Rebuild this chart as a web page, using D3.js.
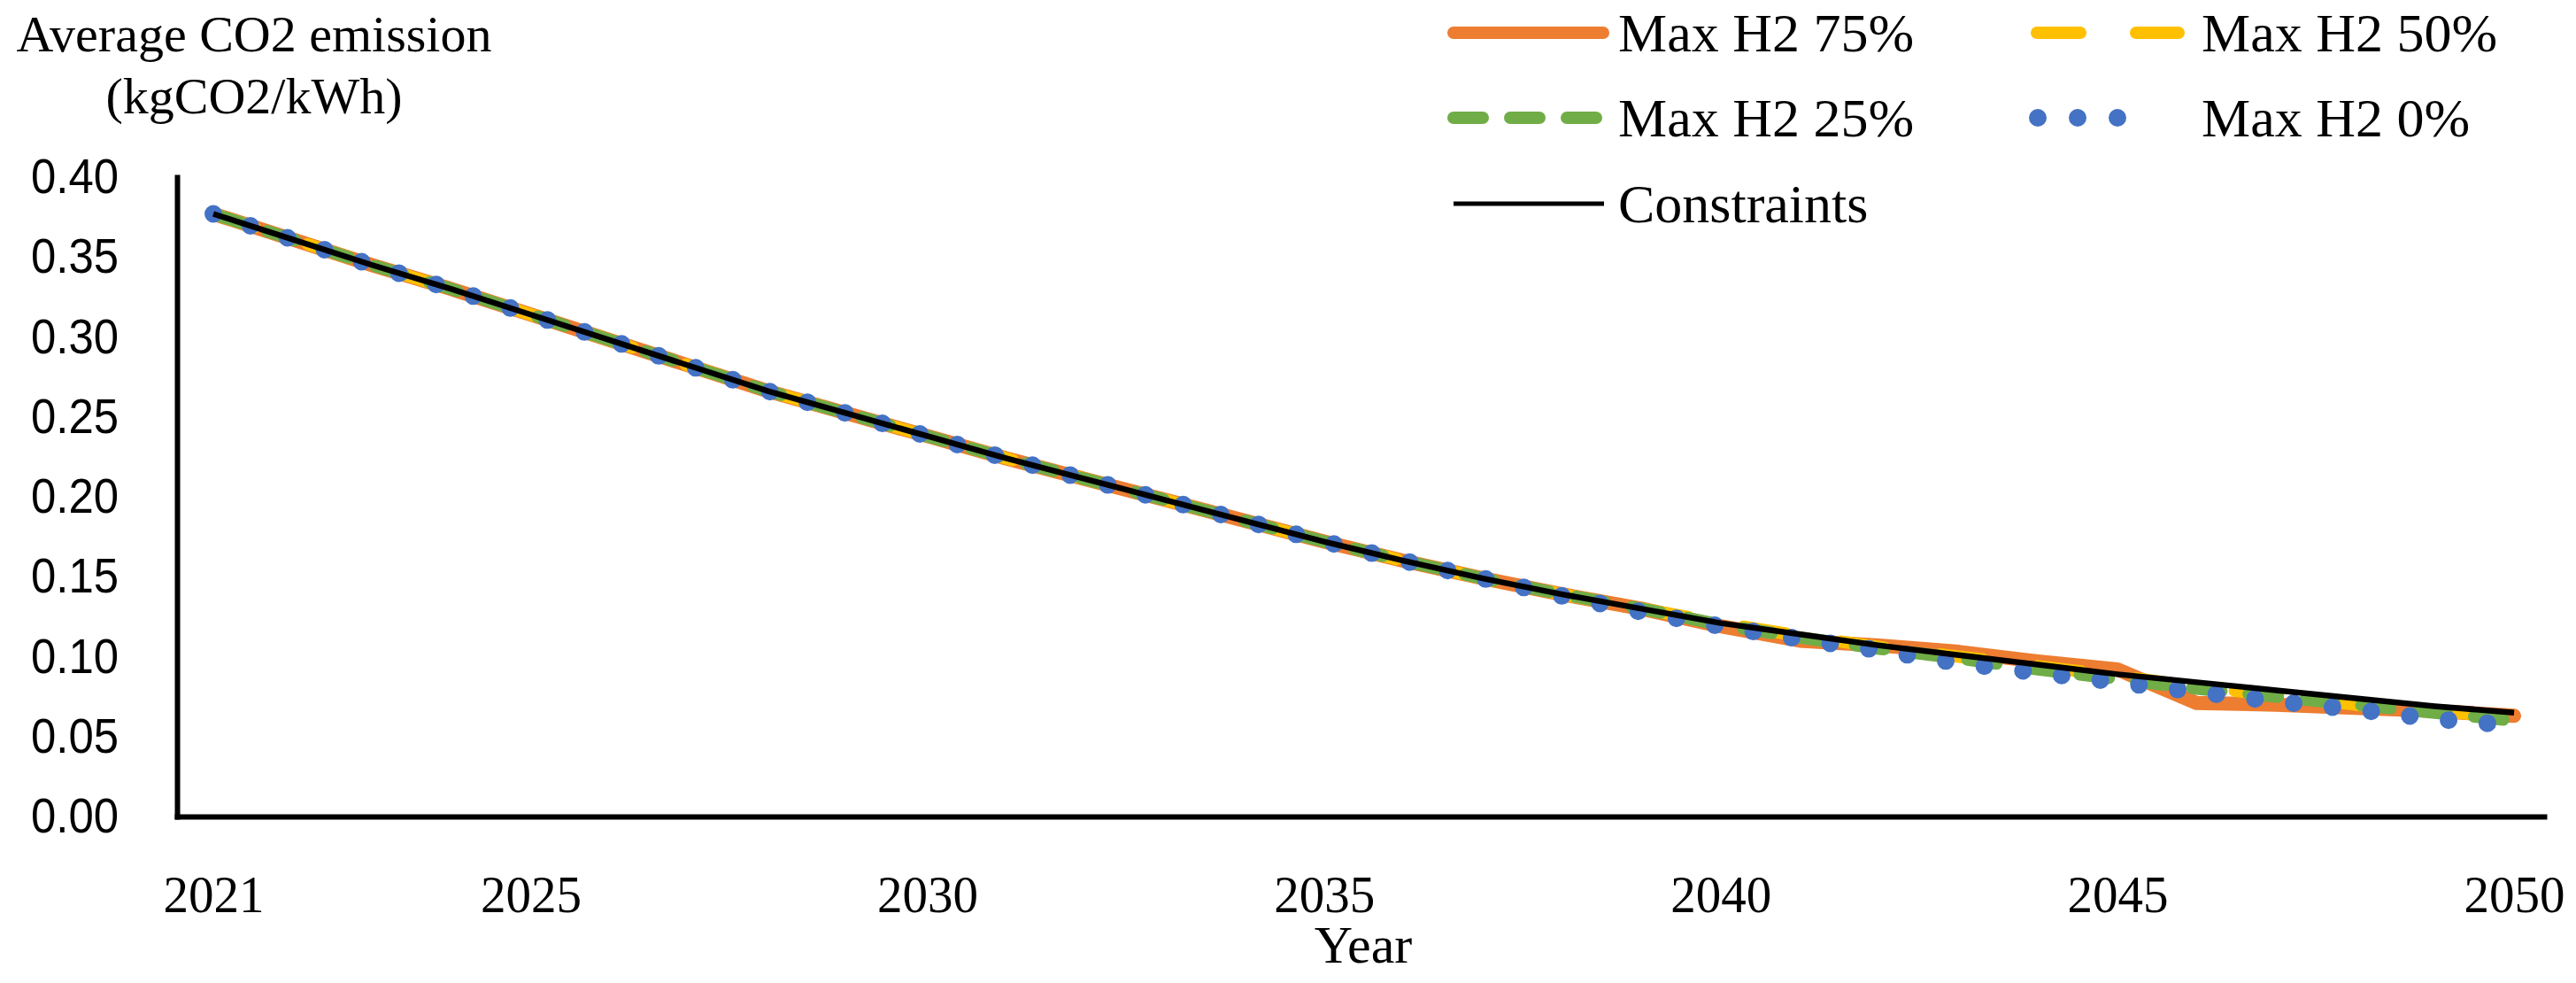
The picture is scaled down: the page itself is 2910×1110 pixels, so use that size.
<!DOCTYPE html>
<html><head><meta charset="utf-8">
<script src="https://cdn.jsdelivr.net/npm/d3@7"></script>
<style>html,body{margin:0;padding:0;background:#fff;} svg{display:block}</style>
</head><body>
<svg id="chart" width="2910" height="1110"></svg>
<script>
// ---- data ----
const years = [2021,2022,2023,2024,2025,2026,2027,2028,2029,2030,2031,2032,2033,2034,2035,2036,2037,2038,2039,2040,2041,2042,2043,2044,2045,2046,2047,2048,2049,2050];
const constraints = [0.377,0.361,0.345,0.330,0.314,0.298,0.282,0.266,0.252,0.238,0.224,0.211,0.198,0.185,0.172,0.160,0.149,0.139,0.130,0.121,0.114,0.107,0.101,0.095,0.089,0.084,0.079,0.074,0.069,0.065];
const maxH2_75 = [0.377,0.361,0.345,0.330,0.314,0.298,0.282,0.266,0.252,0.238,0.224,0.211,0.198,0.185,0.172,0.160,0.149,0.139,0.130,0.119,0.110,0.107,0.103,0.097,0.092,0.071,0.070,0.068,0.066,0.063];
const maxH2_50 = [0.377,0.361,0.345,0.330,0.314,0.298,0.282,0.266,0.252,0.238,0.224,0.211,0.198,0.185,0.172,0.160,0.149,0.139,0.130,0.121,0.113,0.106,0.100,0.094,0.088,0.081,0.076,0.070,0.066,0.062];
const maxH2_25 = [0.377,0.361,0.345,0.330,0.314,0.298,0.282,0.266,0.252,0.238,0.224,0.211,0.198,0.185,0.172,0.160,0.149,0.139,0.130,0.120,0.112,0.105,0.099,0.092,0.086,0.080,0.075,0.070,0.065,0.060];
const maxH2_0  = [0.377,0.361,0.345,0.330,0.314,0.298,0.282,0.266,0.252,0.238,0.224,0.211,0.198,0.185,0.172,0.160,0.149,0.138,0.128,0.119,0.111,0.104,0.096,0.090,0.084,0.078,0.072,0.067,0.061,0.057];
const xTickValues = [2021,2025,2030,2035,2040,2045,2050];
const yTickValues = [0,0.05,0.10,0.15,0.20,0.25,0.30,0.35,0.40];
const seriesNames = ["Max H2 75%","Max H2 50%","Max H2 25%","Max H2 0%","Constraints"];
const yTitleLines = ["Average CO2 emission","(kgCO2/kWh)"];
const xTitle = "Year";

// ---- styles ----
const styles = {
  "Max H2 75%": {color:"#ED7D31", width:16, dash:null,    cap:"round", lw:14, ldash:null},
  "Max H2 50%": {color:"#FFC000", width:14, dash:"49 63", cap:"round", lw:14, ldash:"49 63"},
  "Max H2 25%": {color:"#70AD47", width:14, dash:"33 31", cap:"round", lw:14, ldash:"33 31"},
  "Max H2 0%":  {color:"#4472C4", width:20, dash:"0 44",  cap:"round", lw:20, ldash:"0 45"},
  "Constraints":{color:"#000000", width:6.5, dash:null,   cap:"butt",  lw:5,  ldash:null}
};
const seriesData = {
  "Max H2 75%": maxH2_75, "Max H2 50%": maxH2_50, "Max H2 25%": maxH2_25,
  "Max H2 0%": maxH2_0, "Constraints": constraints
};

const svg = d3.select("#chart");
const serif = "'Liberation Serif','Times New Roman',serif";
const sans = "'Liberation Sans',Arial,sans-serif";

const plot = {left:200, right:2874, top:200, bottom:922};
const x = d3.scaleLinear().domain([2020.5425, 2050.379]).range([plot.left, plot.right]);
const y = d3.scaleLinear().domain([0, 0.40]).range([plot.bottom, plot.top]);

// lines
const line = d3.line().x((d,i)=>x(years[i])).y(d=>y(d));
const gLines = svg.append("g");
seriesNames.forEach(name=>{
  const st = styles[name];
  gLines.append("path")
    .datum(seriesData[name])
    .attr("d", line)
    .attr("fill","none")
    .attr("stroke", st.color)
    .attr("stroke-width", st.width)
    .attr("stroke-linecap", st.cap)
    .attr("stroke-linejoin","round")
    .attr("stroke-dasharray", st.dash);
});

// axes
const yAxis = d3.axisLeft(y).tickValues(yTickValues).tickFormat(d3.format(".2f")).tickSize(0).tickPadding(66);
const gy = svg.append("g").attr("transform",`translate(${plot.left},0)`).call(yAxis);
gy.select(".domain").attr("stroke","#000").attr("stroke-width",6).attr("stroke-linecap","square");
gy.selectAll("text").attr("font-family",sans).attr("font-size",55).attr("fill","#000")
  .attr("textLength",99).attr("lengthAdjust","spacingAndGlyphs");

const xAxis = d3.axisBottom(x).tickValues(xTickValues).tickFormat(d3.format("d")).tickSize(0).tickPadding(66);
const gx = svg.append("g").attr("transform",`translate(0,${plot.bottom})`).call(xAxis);
gx.select(".domain").attr("stroke","#000").attr("stroke-width",6).attr("stroke-linecap","square");
gx.selectAll("text").attr("font-family",serif).attr("font-size",60).attr("fill","#000")
  .attr("dy","0.7em").attr("textLength",114).attr("lengthAdjust","spacingAndGlyphs");

// titles
svg.append("text").attr("x",1540).attr("y",1087).attr("text-anchor","middle")
  .attr("font-family",serif).attr("font-size",60).text(xTitle);
svg.selectAll(".ytitle").data(yTitleLines).enter().append("text")
  .attr("class","ytitle")
  .attr("x",287).attr("y",(d,i)=>58+i*70).attr("text-anchor","middle")
  .attr("font-family",serif).attr("font-size",58).text(d=>d);

// legend
const legendPos = {
  "Max H2 75%": [1635, 37], "Max H2 50%": [2294, 37],
  "Max H2 25%": [1635, 133], "Max H2 0%": [2302, 133],
  "Constraints": [1642, 230]
};
const legendLen = {"Max H2 75%":183, "Max H2 50%":174, "Max H2 25%":175, "Max H2 0%":135, "Constraints":170};
const legendText = {"Max H2 75%":1828, "Max H2 50%":2487, "Max H2 25%":1828, "Max H2 0%":2487, "Constraints":1828};
const gLeg = svg.append("g");
seriesNames.forEach(name=>{
  const st = styles[name];
  const [lx, ly] = legendPos[name];
  let x0 = lx, x1 = lx + legendLen[name];
  if (st.cap === "round" && name !== "Max H2 0%") { x0 += st.lw/2; x1 -= st.lw/2; }
  gLeg.append("line").attr("x1",x0).attr("x2",x1).attr("y1",ly).attr("y2",ly)
    .attr("stroke",st.color).attr("stroke-width",st.lw)
    .attr("stroke-linecap", st.cap)
    .attr("stroke-dasharray", st.ldash);
  gLeg.append("text").attr("x",legendText[name]).attr("y",ly+21)
    .attr("font-family",serif).attr("font-size",62).attr("fill","#000").text(name);
});
</script>
</body></html>
